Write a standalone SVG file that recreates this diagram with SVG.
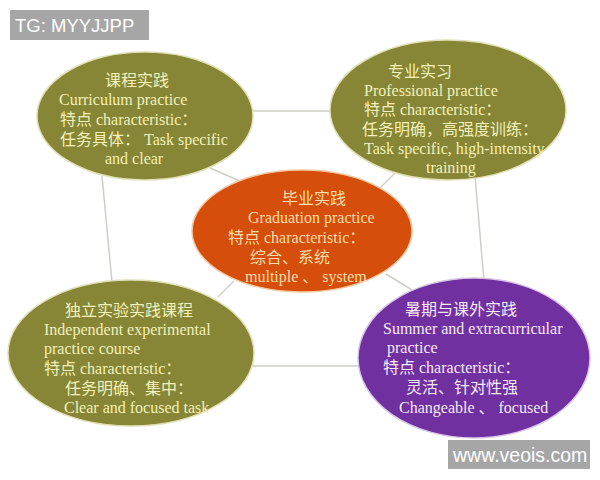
<svg xmlns="http://www.w3.org/2000/svg" width="600" height="480" viewBox="0 0 600 480">
<style>
.olive{fill:#868636;stroke:#E2DFB6;stroke-width:1.5}
.orange{fill:#D54E0B;stroke:#F2C9A0;stroke-width:1.5}
.purple{fill:#7030A0;stroke:#D9C4E6;stroke-width:1.5}
.t{font-family:"Liberation Serif","Noto Sans CJK SC",serif;font-size:16px}
.ty{fill:#F3F0B8}
.to{fill:#FBDDA8}
.tp{fill:#F6EAF6}
.conn line{stroke:#CFCFC8;stroke-width:1.5}
.wm{fill:#A6A6A6}
.wmt{font-family:"Liberation Sans",Arial,sans-serif;fill:#FFFFFF}
</style>
<rect width="600" height="480" fill="#FFFFFF"/>
<g id="connectors" class="conn">
<line x1="250" y1="111" x2="332" y2="111"/>
<line x1="102" y1="176" x2="112" y2="282"/>
<line x1="475" y1="176" x2="484" y2="281"/>
<line x1="250" y1="366" x2="360" y2="366"/>
<line x1="210" y1="168" x2="242" y2="182"/>
<line x1="398" y1="170" x2="378" y2="190"/>
<line x1="386" y1="274" x2="412" y2="290"/>
<line x1="218" y1="297" x2="234" y2="281"/>
</g>
<g id="node-curriculum">
<ellipse class="olive" cx="145" cy="116" rx="108" ry="64"/>
<text class="t ty" x="105" y="86">课程实践</text>
<text class="t ty" x="59" y="105">Curriculum practice</text>
<text class="t ty" x="60" y="125">特点 characteristic：</text>
<text class="t ty" x="60" y="145">任务具体：  Task specific</text>
<text class="t ty" x="105" y="164">and clear</text>
</g>
<g id="node-professional">
<ellipse class="olive" cx="448" cy="110" rx="118" ry="70"/>
<text class="t ty" x="388" y="77">专业实习</text>
<text class="t ty" x="364" y="96">Professional practice</text>
<text class="t ty" x="364" y="115">特点 characteristic：</text>
<text class="t ty" x="362" y="135">任务明确，高强度训练：</text>
<text class="t ty" x="364" y="154">Task specific,  high-intensity</text>
<text class="t ty" x="426" y="173">training</text>
</g>
<g id="node-graduation">
<ellipse class="orange" cx="302" cy="231" rx="110" ry="61"/>
<text class="t to" x="282" y="204">毕业实践</text>
<text class="t to" x="248" y="223">Graduation practice</text>
<text class="t to" x="228" y="243">特点 characteristic：</text>
<text class="t to" x="250" y="263">综合、系统</text>
<text class="t to" x="245" y="282">multiple 、 system</text>
</g>
<g id="node-independent">
<ellipse class="olive" cx="131" cy="353" rx="123" ry="73"/>
<text class="t ty" x="65" y="316">独立实验实践课程</text>
<text class="t ty" x="44" y="335">Independent experimental</text>
<text class="t ty" x="44" y="354">practice course</text>
<text class="t ty" x="44" y="374">特点 characteristic：</text>
<text class="t ty" x="65" y="394">任务明确、集中：</text>
<text class="t ty" x="64" y="413">Clear and focused task</text>
</g>
<g id="node-summer">
<ellipse class="purple" cx="474" cy="358" rx="116" ry="80"/>
<text class="t tp" x="405" y="315">暑期与课外实践</text>
<text class="t tp" x="383" y="334">Summer and extracurricular</text>
<text class="t tp" x="387" y="353">practice</text>
<text class="t tp" x="383" y="373">特点 characteristic：</text>
<text class="t tp" x="406" y="393">灵活、针对性强</text>
<text class="t tp" x="399" y="413">Changeable 、 focused</text>
</g>
<g id="watermark-top">
<rect class="wm" x="10" y="10" width="139" height="30"/>
<text class="wmt" x="15" y="32" font-size="18.5">TG: MYYJJPP</text>
</g>
<g id="watermark-bottom">
<rect class="wm" x="448" y="440" width="142" height="29"/>
<text class="wmt" x="453" y="462" font-size="19.5">www.veois.com</text>
</g>
</svg>
